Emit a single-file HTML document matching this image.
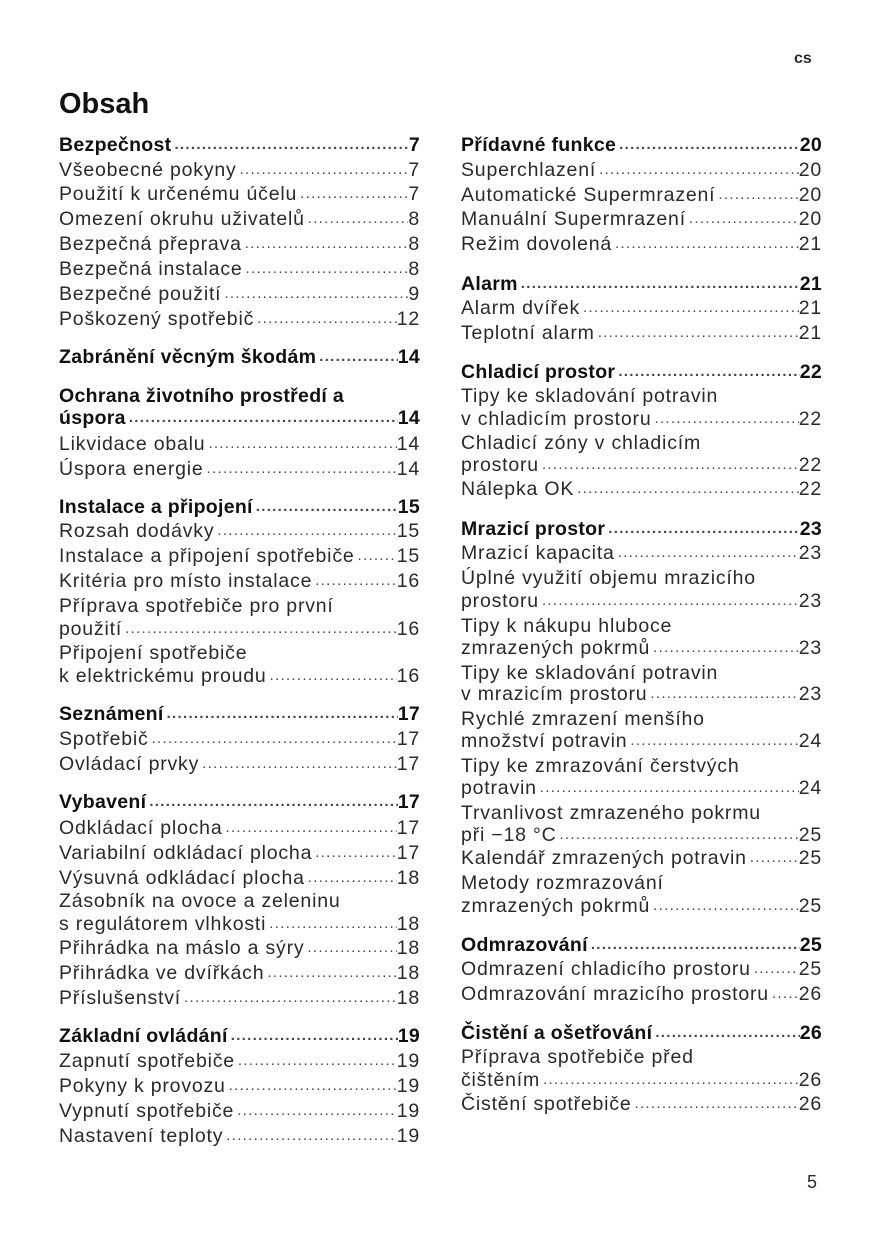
<!DOCTYPE html>
<html><head><meta charset="utf-8"><style>
body{margin:0;background:#fff;}
#p{position:relative;width:874px;height:1240px;overflow:hidden;font-family:"Liberation Sans",sans-serif;color:#2a2a2a;}
.e{position:absolute;width:361px;height:24px;line-height:24px;display:flex;font-size:19.5px;letter-spacing:0.8px;white-space:nowrap;}
.e .d{flex:1;overflow:hidden;font-size:15px;letter-spacing:1.3px;padding:0 3px;color:#444;}
.e .d::before{content:"..................................................................................................................................";}
.b{font-weight:bold;letter-spacing:0.3px;color:#111;}
.L{left:59px}.R{left:461px}
</style></head><body><div id="p">
<div style="position:absolute;left:794px;top:50px;font-weight:bold;font-size:16px;">cs</div>
<div style="position:absolute;left:59px;top:88px;font-weight:bold;font-size:29px;color:#111;">Obsah</div>
<div style="position:absolute;left:807px;top:1172px;font-size:18px;">5</div>

<div class="e L b" style="top:133px"><span>Bezpečnost</span><span class="d"></span><span>7</span></div>
<div class="e L" style="top:158px"><span>Všeobecné pokyny</span><span class="d"></span><span>7</span></div>
<div class="e L" style="top:182px"><span>Použití k určenému účelu</span><span class="d"></span><span>7</span></div>
<div class="e L" style="top:207px"><span>Omezení okruhu uživatelů</span><span class="d"></span><span>8</span></div>
<div class="e L" style="top:232px"><span>Bezpečná přeprava</span><span class="d"></span><span>8</span></div>
<div class="e L" style="top:257px"><span>Bezpečná instalace</span><span class="d"></span><span>8</span></div>
<div class="e L" style="top:282px"><span>Bezpečné použití</span><span class="d"></span><span>9</span></div>
<div class="e L" style="top:307px"><span>Poškozený spotřebič</span><span class="d"></span><span>12</span></div>
<div class="e L b" style="top:345px"><span>Zabránění věcným škodám</span><span class="d"></span><span>14</span></div>
<div class="e L b" style="top:384px"><span>Ochrana životního prostředí a</span></div>
<div class="e L b" style="top:406px"><span>úspora</span><span class="d"></span><span>14</span></div>
<div class="e L" style="top:432px"><span>Likvidace obalu</span><span class="d"></span><span>14</span></div>
<div class="e L" style="top:457px"><span>Úspora energie</span><span class="d"></span><span>14</span></div>
<div class="e L b" style="top:495px"><span>Instalace a připojení</span><span class="d"></span><span>15</span></div>
<div class="e L" style="top:519px"><span>Rozsah dodávky</span><span class="d"></span><span>15</span></div>
<div class="e L" style="top:544px"><span>Instalace a připojení spotřebiče</span><span class="d"></span><span>15</span></div>
<div class="e L" style="top:569px"><span>Kritéria pro místo instalace</span><span class="d"></span><span>16</span></div>
<div class="e L" style="top:594px"><span>Příprava spotřebiče pro první</span></div>
<div class="e L" style="top:617px"><span>použití</span><span class="d"></span><span>16</span></div>
<div class="e L" style="top:641px"><span>Připojení spotřebiče</span></div>
<div class="e L" style="top:664px"><span>k elektrickému proudu</span><span class="d"></span><span>16</span></div>
<div class="e L b" style="top:702px"><span>Seznámení</span><span class="d"></span><span>17</span></div>
<div class="e L" style="top:727px"><span>Spotřebič</span><span class="d"></span><span>17</span></div>
<div class="e L" style="top:752px"><span>Ovládací prvky</span><span class="d"></span><span>17</span></div>
<div class="e L b" style="top:790px"><span>Vybavení</span><span class="d"></span><span>17</span></div>
<div class="e L" style="top:816px"><span>Odkládací plocha</span><span class="d"></span><span>17</span></div>
<div class="e L" style="top:841px"><span>Variabilní odkládací plocha</span><span class="d"></span><span>17</span></div>
<div class="e L" style="top:866px"><span>Výsuvná odkládací plocha</span><span class="d"></span><span>18</span></div>
<div class="e L" style="top:889px"><span>Zásobník na ovoce a zeleninu</span></div>
<div class="e L" style="top:912px"><span>s regulátorem vlhkosti</span><span class="d"></span><span>18</span></div>
<div class="e L" style="top:936px"><span>Přihrádka na máslo a sýry</span><span class="d"></span><span>18</span></div>
<div class="e L" style="top:961px"><span>Přihrádka ve dvířkách</span><span class="d"></span><span>18</span></div>
<div class="e L" style="top:986px"><span>Příslušenství</span><span class="d"></span><span>18</span></div>
<div class="e L b" style="top:1024px"><span>Základní ovládání</span><span class="d"></span><span>19</span></div>
<div class="e L" style="top:1049px"><span>Zapnutí spotřebiče</span><span class="d"></span><span>19</span></div>
<div class="e L" style="top:1074px"><span>Pokyny k provozu</span><span class="d"></span><span>19</span></div>
<div class="e L" style="top:1099px"><span>Vypnutí spotřebiče</span><span class="d"></span><span>19</span></div>
<div class="e L" style="top:1124px"><span>Nastavení teploty</span><span class="d"></span><span>19</span></div>

<div class="e R b" style="top:133px"><span>Přídavné funkce</span><span class="d"></span><span>20</span></div>
<div class="e R" style="top:158px"><span>Superchlazení</span><span class="d"></span><span>20</span></div>
<div class="e R" style="top:183px"><span>Automatické Supermrazení</span><span class="d"></span><span>20</span></div>
<div class="e R" style="top:207px"><span>Manuální Supermrazení</span><span class="d"></span><span>20</span></div>
<div class="e R" style="top:232px"><span>Režim dovolená</span><span class="d"></span><span>21</span></div>
<div class="e R b" style="top:272px"><span>Alarm</span><span class="d"></span><span>21</span></div>
<div class="e R" style="top:296px"><span>Alarm dvířek</span><span class="d"></span><span>21</span></div>
<div class="e R" style="top:321px"><span>Teplotní alarm</span><span class="d"></span><span>21</span></div>
<div class="e R b" style="top:360px"><span>Chladicí prostor</span><span class="d"></span><span>22</span></div>
<div class="e R" style="top:384px"><span>Tipy ke skladování potravin</span></div>
<div class="e R" style="top:407px"><span>v chladicím prostoru</span><span class="d"></span><span>22</span></div>
<div class="e R" style="top:431px"><span>Chladicí zóny v chladicím</span></div>
<div class="e R" style="top:453px"><span>prostoru</span><span class="d"></span><span>22</span></div>
<div class="e R" style="top:477px"><span>Nálepka OK</span><span class="d"></span><span>22</span></div>
<div class="e R b" style="top:517px"><span>Mrazicí prostor</span><span class="d"></span><span>23</span></div>
<div class="e R" style="top:541px"><span>Mrazicí kapacita</span><span class="d"></span><span>23</span></div>
<div class="e R" style="top:566px"><span>Úplné využití objemu mrazicího</span></div>
<div class="e R" style="top:589px"><span>prostoru</span><span class="d"></span><span>23</span></div>
<div class="e R" style="top:614px"><span>Tipy k nákupu hluboce</span></div>
<div class="e R" style="top:636px"><span>zmrazených pokrmů</span><span class="d"></span><span>23</span></div>
<div class="e R" style="top:661px"><span>Tipy ke skladování potravin</span></div>
<div class="e R" style="top:682px"><span>v mrazicím prostoru</span><span class="d"></span><span>23</span></div>
<div class="e R" style="top:707px"><span>Rychlé zmrazení menšího</span></div>
<div class="e R" style="top:729px"><span>množství potravin</span><span class="d"></span><span>24</span></div>
<div class="e R" style="top:754px"><span>Tipy ke zmrazování čerstvých</span></div>
<div class="e R" style="top:776px"><span>potravin</span><span class="d"></span><span>24</span></div>
<div class="e R" style="top:801px"><span>Trvanlivost zmrazeného pokrmu</span></div>
<div class="e R" style="top:823px"><span>při −18 °C</span><span class="d"></span><span>25</span></div>
<div class="e R" style="top:846px"><span>Kalendář zmrazených potravin</span><span class="d"></span><span>25</span></div>
<div class="e R" style="top:871px"><span>Metody rozmrazování</span></div>
<div class="e R" style="top:894px"><span>zmrazených pokrmů</span><span class="d"></span><span>25</span></div>
<div class="e R b" style="top:933px"><span>Odmrazování</span><span class="d"></span><span>25</span></div>
<div class="e R" style="top:957px"><span>Odmrazení chladicího prostoru</span><span class="d"></span><span>25</span></div>
<div class="e R" style="top:982px"><span>Odmrazování mrazicího prostoru</span><span class="d"></span><span>26</span></div>
<div class="e R b" style="top:1021px"><span>Čistění a ošetřování</span><span class="d"></span><span>26</span></div>
<div class="e R" style="top:1045px"><span>Příprava spotřebiče před</span></div>
<div class="e R" style="top:1068px"><span>čištěním</span><span class="d"></span><span>26</span></div>
<div class="e R" style="top:1092px"><span>Čistění spotřebiče</span><span class="d"></span><span>26</span></div>
</div></body></html>
